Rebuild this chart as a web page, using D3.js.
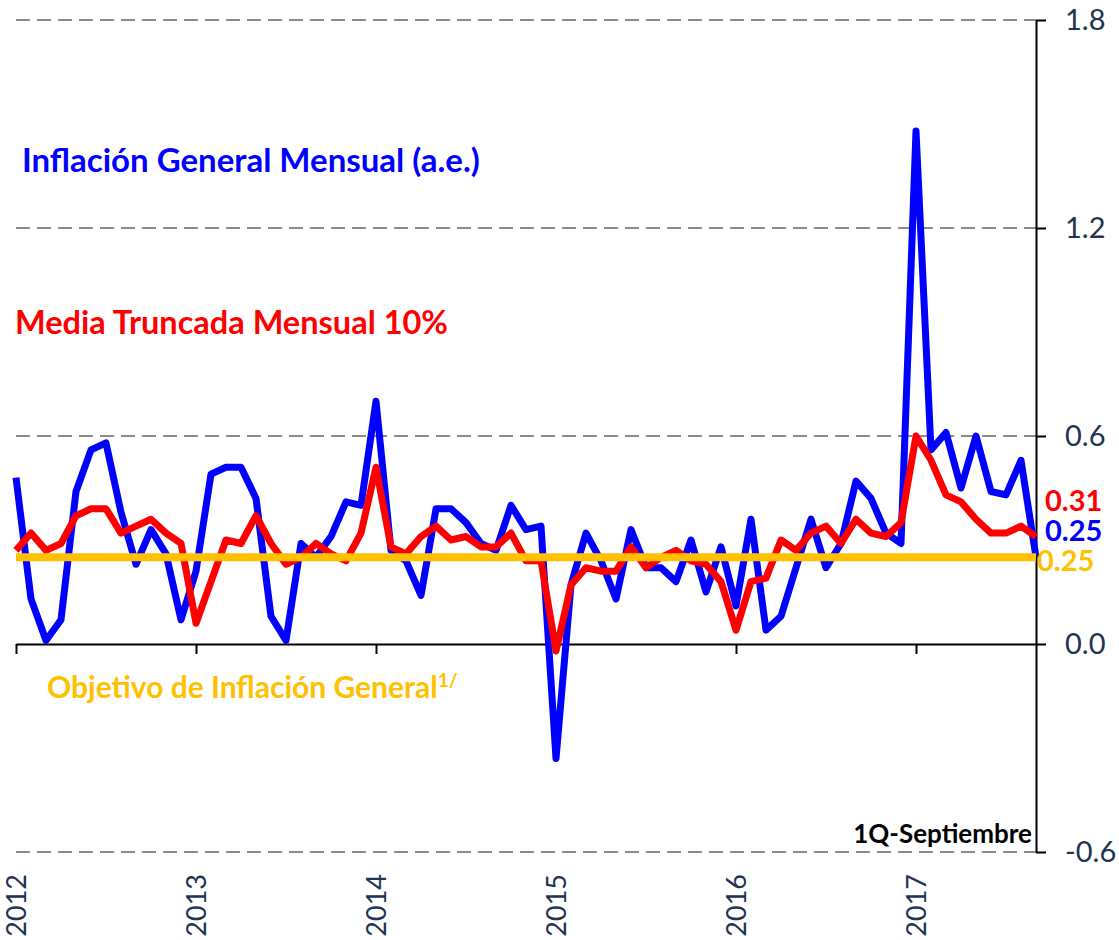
<!DOCTYPE html>
<html>
<head>
<meta charset="utf-8">
<script src="https://cdn.jsdelivr.net/npm/d3@7"></script>
<style>
  body { margin: 0; background: #fff; }
  svg { display: block; font-family: Lato, "Open Sans", sans-serif; }
</style>
</head>
<body>
<svg id="chart" width="1119" height="940"></svg>
<script>
// monthly data, Jan 2012 .. Sep 2017 (1Q)
var yearLabels = ["2012", "2013", "2014", "2015", "2016", "2017"];
var yTicks = [-0.6, 0.0, 0.6, 1.2, 1.8];
var target = 0.25;

var general = [0.48, 0.13, 0.01, 0.07, 0.44, 0.56, 0.58, 0.38, 0.23, 0.33, 0.26, 0.07,
               0.21, 0.49, 0.51, 0.51, 0.42, 0.08, 0.01, 0.29, 0.25, 0.31, 0.41, 0.40,
               0.70, 0.27, 0.24, 0.14, 0.39, 0.39, 0.35, 0.29, 0.27, 0.40, 0.33, 0.34,
               -0.33, 0.17, 0.32, 0.24, 0.13, 0.33, 0.22, 0.22, 0.18, 0.30, 0.15, 0.28,
               0.11, 0.36, 0.04, 0.08, 0.22, 0.36, 0.22, 0.29, 0.47, 0.42, 0.32, 0.29,
               1.48, 0.56, 0.61, 0.45, 0.60, 0.44, 0.43, 0.53, 0.25];

var truncada = [0.27, 0.32, 0.27, 0.29, 0.37, 0.39, 0.39, 0.32, 0.34, 0.36, 0.32, 0.29,
                0.06, 0.18, 0.30, 0.29, 0.37, 0.29, 0.23, 0.25, 0.29, 0.26, 0.24, 0.32,
                0.51, 0.28, 0.26, 0.31, 0.34, 0.30, 0.31, 0.28, 0.28, 0.32, 0.24, 0.24,
                -0.02, 0.17, 0.22, 0.21, 0.21, 0.28, 0.22, 0.25, 0.27, 0.24, 0.23, 0.18,
                0.04, 0.18, 0.19, 0.30, 0.27, 0.32, 0.34, 0.29, 0.36, 0.32, 0.31, 0.35,
                0.60, 0.53, 0.43, 0.41, 0.36, 0.32, 0.32, 0.34, 0.31];

var svg = d3.select("#chart");
var axisColor = "#1f3352";

var x = d3.scaleLinear().domain([0, general.length - 1]).range([16, 1036]);
var y = d3.scaleLinear().domain([-0.6, 1.8]).range([852, 20]);

// plain hyphen for negatives, like the original
var fmt1 = function(d) { return d3.format(".1f")(d).replace("\u2212", "-"); };

// dashed grid lines
svg.append("g")
  .selectAll("line")
  .data(yTicks.filter(function(d) { return d != 0; }))
  .enter().append("line")
    .attr("x1", x(0)).attr("x2", x(general.length - 1))
    .attr("y1", function(d) { return y(d); })
    .attr("y2", function(d) { return y(d); })
    .attr("stroke", "#8c8c8c")
    .attr("stroke-width", 2)
    .attr("stroke-dasharray", "14,7");

// x axis on the zero line, year ticks
var xAxis = svg.append("g")
  .attr("transform", "translate(0," + y(0) + ")")
  .call(d3.axisBottom(x)
    .tickValues(yearLabels.map(function(d, i) { return i * 12; }))
    .tickSize(10)
    .tickSizeOuter(0)
    .tickFormat(""));
xAxis.select(".domain").attr("stroke", "#000").attr("stroke-width", 2);
xAxis.selectAll(".tick line").attr("stroke", "#000").attr("stroke-width", 2);

// year labels, rotated
svg.append("g")
  .selectAll("text")
  .data(yearLabels)
  .enter().append("text")
    .attr("transform", function(d, i) { return "translate(" + (x(i * 12) + 10) + ",874) rotate(-90)"; })
    .attr("text-anchor", "end")
    .attr("fill", axisColor)
    .style("font-size", "27px")
    .text(function(d) { return d; });

// right axis
var yAxis = svg.append("g")
  .attr("transform", "translate(" + x(general.length - 1) + ",0)")
  .call(d3.axisRight(y)
    .tickValues(yTicks)
    .tickSize(10)
    .tickSizeOuter(0)
    .tickPadding(19)
    .tickFormat(fmt1));
yAxis.select(".domain").attr("stroke", "#000").attr("stroke-width", 2);
yAxis.selectAll(".tick line").attr("stroke", "#000").attr("stroke-width", 2);
yAxis.selectAll(".tick text")
  .attr("fill", axisColor)
  .style("font-family", "Lato, sans-serif")
  .style("font-size", "29px");

// series lines
var line = d3.line()
  .x(function(d, i) { return x(i); })
  .y(function(d) { return y(d); });

svg.append("path")
  .datum(general)
  .attr("d", line)
  .attr("fill", "none")
  .attr("stroke", "#0000ff")
  .attr("stroke-width", 7)
  .attr("stroke-linejoin", "round");

svg.append("path")
  .datum(truncada)
  .attr("d", line)
  .attr("fill", "none")
  .attr("stroke", "#ff0000")
  .attr("stroke-width", 7)
  .attr("stroke-linejoin", "round");

svg.append("line")
  .attr("x1", x(0)).attr("x2", x(general.length - 1))
  .attr("y1", y(target)).attr("y2", y(target))
  .attr("stroke", "#ffc000")
  .attr("stroke-width", 8);

// end-of-series value labels (stacked so they don't collide)
var last = general.length - 1;
var endLabels = [
  {v: truncada[last], c: "#ff0000", dx: 9, dy: -26},
  {v: general[last], c: "#0000ff", dx: 9, dy: -16},
  {v: target, c: "#ffc000", dx: 1, dy: 14}
];
svg.append("g")
  .selectAll("text")
  .data(endLabels)
  .enter().append("text")
    .attr("x", function(d) { return x(last) + d.dx; })
    .attr("y", function(d) { return y(d.v) + d.dy; })
    .attr("fill", function(d) { return d.c; })
    .style("font-size", "29px")
    .style("font-weight", "bold")
    .text(function(d) { return d3.format(".2f")(d.v); });

// series titles
svg.append("text")
  .attr("x", 22).attr("y", 172)
  .attr("fill", "#0000ff")
  .style("font-size", "33px").style("font-weight", "bold")
  .text("Inflación General Mensual (a.e.)");

svg.append("text")
  .attr("x", 15).attr("y", 334)
  .attr("fill", "#ff0000")
  .style("font-size", "32.5px").style("font-weight", "bold")
  .text("Media Truncada Mensual 10%");

var obj = svg.append("text")
  .attr("x", 47).attr("y", 698)
  .attr("fill", "#ffc000")
  .style("font-size", "30px").style("font-weight", "bold");
obj.append("tspan").text("Objetivo de Inflación General");
obj.append("tspan")
  .attr("dy", -11)
  .style("font-size", "19px")
  .text("1/");

svg.append("text")
  .attr("x", 1032).attr("y", 843)
  .attr("text-anchor", "end")
  .attr("fill", "#000")
  .style("font-size", "26px").style("font-weight", "bold")
  .text("1Q-Septiembre");
</script>
</body>
</html>
